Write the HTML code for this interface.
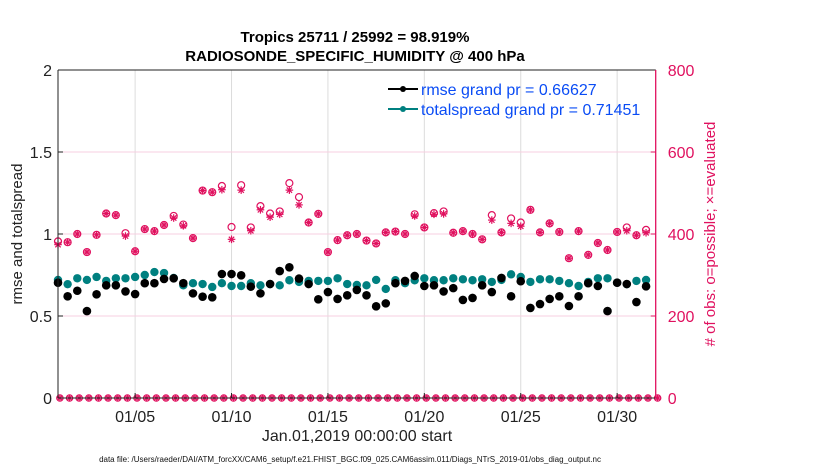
<!DOCTYPE html>
<html><head><meta charset="utf-8"><style>
body{margin:0;background:#fff}
svg{display:block;font-family:"Liberation Sans",Arial,sans-serif}
</style></head><body>
<svg id="chart" width="830" height="470" viewBox="0 0 830 470">
<g id="grid"></g>
<g id="marks"></g>
<g id="axes"></g>
<text x="355" y="42" text-anchor="middle" font-size="15" font-weight="bold" fill="#000">Tropics 25711 / 25992 = 98.919%</text>
<text x="355" y="61" text-anchor="middle" font-size="15" font-weight="bold" fill="#000">RADIOSONDE_SPECIFIC_HUMIDITY @ 400 hPa</text>
<text transform="translate(22,234) rotate(-90)" text-anchor="middle" font-size="15" fill="#222">rmse and totalspread</text>
<text transform="translate(715,234) rotate(-90)" text-anchor="middle" font-size="15" fill="#e0115f"># of obs: o=possible; ×=evaluated</text>
<text x="357" y="441" text-anchor="middle" font-size="16" fill="#222">Jan.01,2019 00:00:00 start</text>
<text x="350" y="462" text-anchor="middle" font-size="8" fill="#111">data file: /Users/raeder/DAI/ATM_forcXX/CAM6_setup/f.e21.FHIST_BGC.f09_025.CAM6assim.011/Diags_NTrS_2019-01/obs_diag_output.nc</text>
<g>
<line x1="388" y1="89" x2="418" y2="89" stroke="#000" stroke-width="2"/>
<circle cx="403" cy="89" r="3" fill="#000"/>
<text x="421" y="95" font-size="16" fill="#0a4cf5">rmse grand pr = 0.66627</text>
<line x1="388" y1="109" x2="418" y2="109" stroke="#008080" stroke-width="2"/>
<circle cx="403" cy="109" r="3" fill="#008080"/>
<text x="421" y="115" font-size="16" fill="#0a4cf5">totalspread grand pr = 0.71451</text>
</g>
</svg>
<script>
const rmse=[0.703,0.62,0.654,0.53,0.632,0.687,0.687,0.65,0.634,0.70,0.70,0.726,0.73,0.70,0.638,0.618,0.614,0.756,0.756,0.748,0.679,0.638,0.695,0.774,0.797,0.728,0.695,0.602,0.646,0.604,0.626,0.659,0.626,0.559,0.577,0.70,0.714,0.744,0.683,0.687,0.65,0.67,0.598,0.61,0.687,0.646,0.732,0.62,0.712,0.549,0.573,0.604,0.62,0.561,0.62,0.70,0.683,0.53,0.703,0.695,0.585,0.681];
const spread=[0.72,0.694,0.73,0.72,0.738,0.714,0.73,0.73,0.738,0.75,0.768,0.762,0.732,0.687,0.70,0.695,0.677,0.70,0.683,0.683,0.70,0.687,0.695,0.687,0.718,0.708,0.714,0.714,0.714,0.73,0.695,0.689,0.687,0.72,0.665,0.718,0.70,0.718,0.73,0.718,0.718,0.73,0.724,0.718,0.724,0.708,0.72,0.754,0.738,0.708,0.724,0.724,0.714,0.70,0.683,0.708,0.73,0.73,0.703,0.694,0.714,0.72];
const possible=[382,380,400,356,398,450,446,402,358,412,407,422,444,423,390,506,502,517,417,519,416,468,450,455,524,490,428,449,356,385,397,400,384,377,404,406,400,448,416,451,455,403,407,400,387,446,404,438,428,459,404,426,405,341,407,349,378,361,405,416,397,410];
const evaluated=[374,380,400,356,398,450,446,395,358,412,407,422,439,420,390,506,502,508,387,507,408,459,441,448,507,471,428,449,356,385,397,400,384,377,404,406,400,444,416,448,449,403,407,400,387,434,404,426,419,459,404,426,405,341,407,349,378,361,405,408,397,403];
const zeroCounts=[0,0,0,0,0,0,0,0,0,0,0,0,0,0,0,0,0,0,0,0,0,0,0,0,0,0,0,0,0,0,0,0,0,0,0,0,0,0,0,0,0,0,0,0,0,0,0,0,0,0,0,0,0,0,0,0,0,0,0,0,0,0,0];
const xTickDays=[5,10,15,20,25,30];
const xTickLabels=["01/05","01/10","01/15","01/20","01/25","01/30"];
const leftTicks=[0,0.5,1,1.5,2];
const leftTickLabels=["0","0.5","1","1.5","2"];
const rightTicks=[0,200,400,600,800];

const NS="http://www.w3.org/2000/svg";
const PL=58,PR=655.7,PT=70,PB=398;
const xScale=d=>PL+(d-1)/31*(PR-PL);
const yL=v=>PB-v/2*(PB-PT);
const yR=v=>PB-v/800*(PB-PT);
const dayOf=i=>1.0+0.5*i;
const zeroDayOf=i=>1.125+0.5*i;
function mk(tag,attrs,parent){const e=document.createElementNS(NS,tag);for(const k in attrs)e.setAttribute(k,attrs[k]);parent.appendChild(e);return e;}
const gridG=document.getElementById('grid'),marksG=document.getElementById('marks'),axesG=document.getElementById('axes');

xTickDays.forEach((d,i)=>{
  const g=mk('line',{x1:xScale(d),x2:xScale(d),y1:PT,y2:PB,stroke:'#dcdcdc','stroke-width':1},gridG);
  
  
  const t=mk('line',{x1:xScale(d),x2:xScale(d),y1:PB,y2:PB-5,stroke:'#222'},axesG);
  
  
  const l=mk('text',{x:xScale(d),y:PB+24,'text-anchor':'middle','font-size':16,fill:'#222'},axesG);
  l.textContent=xTickLabels[i];
  
  
});
rightTicks.forEach(v=>{
  if(v>0&&v<800){
  const g=mk('line',{x1:PL,x2:PR,y1:yR(v),y2:yR(v),stroke:'#f7cfe0','stroke-width':1},gridG);
  
  }
  const t=mk('line',{x1:PR,x2:PR-5,y1:yR(v),y2:yR(v),stroke:'#e0115f'},axesG);
  
  
  const l=mk('text',{x:PR+12,y:yR(v)+6,'font-size':16,fill:'#e0115f'},axesG);
  l.textContent=String(v);
  
  
});
leftTicks.forEach((v,i)=>{
  const t=mk('line',{x1:PL,x2:PL+5,y1:yL(v),y2:yL(v),stroke:'#222'},axesG);
  
  
  const l=mk('text',{x:PL-6,y:yL(v)+6,'text-anchor':'end','font-size':16,fill:'#222'},axesG);
  l.textContent=leftTickLabels[i];
  
  
});
const topBorder=mk('line',{x1:PL,x2:PR,y1:PT,y2:PT,stroke:'#222'},axesG);


const xAxisLine=mk('line',{x1:PL,x2:PR,y1:PB,y2:PB,stroke:'#222'},axesG);


const leftAxisLine=mk('line',{x1:PL,x2:PL,y1:PT,y2:PB,stroke:'#222'},axesG);


const rightAxisLine=mk('line',{x1:PR,x2:PR,y1:PT,y2:PB,stroke:'#e0115f','stroke-width':1.3},axesG);



function star(cx,cy,r,parent,name){
  const g=mk('g',{stroke:'#e0115f','stroke-width':1.2},parent);
  
  
  for(let a=0;a<4;a++){const th=a*Math.PI/4;mk('line',{x1:cx-r*Math.cos(th),y1:cy-r*Math.sin(th),x2:cx+r*Math.cos(th),y2:cy+r*Math.sin(th)},g);}
}
zeroCounts.forEach((v,i)=>{
  const c=mk('circle',{cx:xScale(zeroDayOf(i))-0.5,cy:yR(v),r:3.2,fill:'none',stroke:'#e0115f','stroke-width':1.2},marksG);
  
  
  star(xScale(zeroDayOf(i))-0.5,yR(v),3.5,marksG,'zero-evaluated-marker');
});
possible.forEach((v,i)=>{
  const c=mk('circle',{cx:xScale(dayOf(i)),cy:yR(v),r:3.5,fill:'none',stroke:'#e0115f','stroke-width':1.2},marksG);
  
  
});
evaluated.forEach((v,i)=>{star(xScale(dayOf(i)),yR(v),3.8,marksG,'evaluated-obs-marker');});
spread.forEach((v,i)=>{
  const c=mk('circle',{cx:xScale(dayOf(i)),cy:yL(v),r:4.2,fill:'#008080'},marksG);
  
  
});
rmse.forEach((v,i)=>{
  const c=mk('circle',{cx:xScale(dayOf(i)),cy:yL(v),r:4.3,fill:'#000'},marksG);
  
  
});
</script>
</body></html>
